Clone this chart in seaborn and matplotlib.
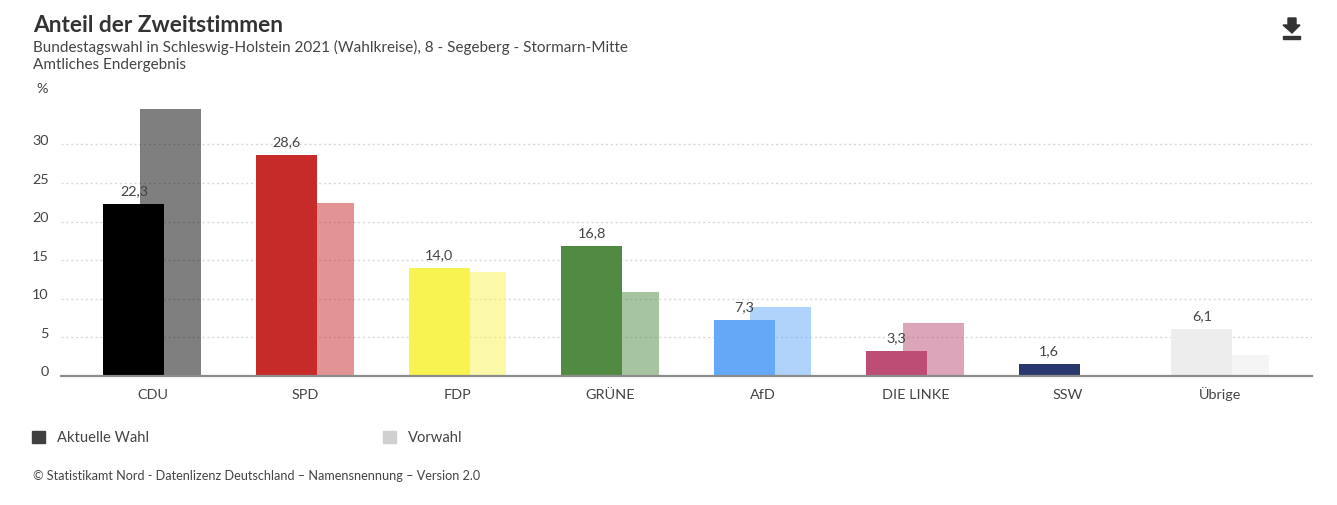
import numpy as np
import pandas as pd
import seaborn as sns
import matplotlib.pyplot as plt
from matplotlib.patches import Patch, Polygon, Rectangle
from matplotlib.transforms import ScaledTranslation

# -------- DATA --------
parteien = ["CDU", "SPD", "FDP", "GRÜNE", "AfD", "DIE LINKE", "SSW", "Übrige"]
aktuell = [22.3, 28.6, 14.0, 16.8, 7.3, 3.3, 1.6, 6.1]
vorwahl = [34.6, 22.4, 13.5, 10.9, 8.9, 6.9, 0.0, 2.7]
farben = ["#000000", "#C62B2A", "#F8F350", "#518A43", "#63A9F8", "#BD4D74", "#28386F", "#EDEDED"]
y_ticks = [0, 5, 10, 15, 20, 25, 30]

W, H = 1337, 505
TEXT = "#444444"

sns.set_theme(style="white")
plt.rcParams["font.family"] = ["Lato", "DejaVu Sans"]

df = pd.DataFrame({"Partei": parteien, "Aktuell": aktuell, "Vorwahl": vorwahl})
df["pos"] = np.arange(len(df), dtype=float)
palette = dict(zip(parteien, farben))

fig = plt.figure(figsize=(W / 100, H / 100), dpi=100)
ax = fig.add_axes([61 / W, 1 - 376 / H, (1312 - 61) / W, (376 - 100) / H])
ax.set_facecolor("white")


# -------- BARS --------
def draw_bars(col, shift, alpha):
    sns.barplot(
        x=df["pos"] + shift, y=df[col], hue=df["Partei"], palette=palette,
        hue_order=parteien, dodge=False, native_scale=True, width=0.4,
        saturation=1, alpha=alpha, legend=False, ax=ax, zorder=3, linewidth=0,
    )


draw_bars("Vorwahl", 0.118, 0.5)
draw_bars("Aktuell", -0.122, 1)

for container in ax.containers[len(parteien):]:
    ax.bar_label(
        container, fmt=lambda v: f"{v:.1f}".replace(".", ","),
        padding=4.8, fontsize=10.4, color=TEXT, zorder=5,
    )

# -------- AXES --------
ax.set_xlim(-0.6, 7.6)
ax.set_ylim(0, 276 / 7.72)
ax.set_xlabel("")
ax.set_ylabel("")
ax.set_xticks(df["pos"], parteien)
ax.set_yticks(y_ticks)
ax.tick_params(axis="x", length=0, pad=16.5, labelsize=10.4, labelcolor=TEXT)
ax.tick_params(axis="y", length=0, pad=9, labelsize=10.4, labelcolor=TEXT)
ax.grid(False)
ax.yaxis.grid(True, color="#d9d9d9", linewidth=1, linestyle=(0, (1.5, 2)), zorder=1)
ax.set_axisbelow(True)
sns.despine(ax=ax, left=True)
ax.spines["bottom"].set_color("#8c8c8c")
ax.spines["bottom"].set_linewidth(1.6)
ax.spines["bottom"].set_zorder(6)

# umlaut must not push Übrige down
for lab in ax.get_xticklabels():
    lab.set_verticalalignment("baseline")

shift_up = ScaledTranslation(0, 4.5 / 100, fig.dpi_scale_trans)
for lab in ax.get_yticklabels():
    lab.set_transform(lab.get_transform() + shift_up)


# -------- TEXTS --------
def fx(x):
    return x / W


def fy(y):
    return 1 - y / H


fig.text(fx(33), fy(25), "Anteil der Zweitstimmen", fontsize=16.4, fontweight="bold",
         color="#333333", va="center")
fig.text(fx(33), fy(47), "Bundestagswahl in Schleswig-Holstein 2021 (Wahlkreise), 8 - Segeberg - Stormarn-Mitte",
         fontsize=10.95, color=TEXT, va="center")
fig.text(fx(33), fy(65), "Amtliches Endergebnis", fontsize=10.95, color=TEXT, va="center")
fig.text(fx(48), fy(89), "%", fontsize=10.4, color=TEXT, va="center", ha="right")
fig.text(fx(33), fy(476), "© Statistikamt Nord - Datenlizenz Deutschland – Namensnennung – Version 2.0",
         fontsize=9.1, color=TEXT, va="center")

# -------- LEGEND --------
handles = [Patch(color="#404040", label="Aktuelle Wahl"), Patch(color="#d0d0d0", label="Vorwahl")]
fig.legend(
    handles=handles, ncols=2, frameon=False, loc="center left",
    bbox_to_anchor=(fx(32), fy(438)), borderaxespad=0, borderpad=0,
    fontsize=10.6, labelcolor=TEXT, handlelength=0.85, handleheight=0.85,
    handletextpad=0.85, columnspacing=15.9,
)

# -------- DOWNLOAD ICON --------
arrow = [(1288, 18), (1296, 18), (1296, 25), (1300, 25), (1292, 33), (1283, 25), (1288, 25)]
fig.add_artist(Polygon([(fx(x), fy(y)) for x, y in arrow], closed=True, color="#333333",
                       transform=fig.transFigure))
fig.add_artist(Rectangle((fx(1283), fy(39)), 17 / W, 3 / H, color="#333333",
                         transform=fig.transFigure))

fig.savefig("out.png", dpi=100)
plt.close(fig)
